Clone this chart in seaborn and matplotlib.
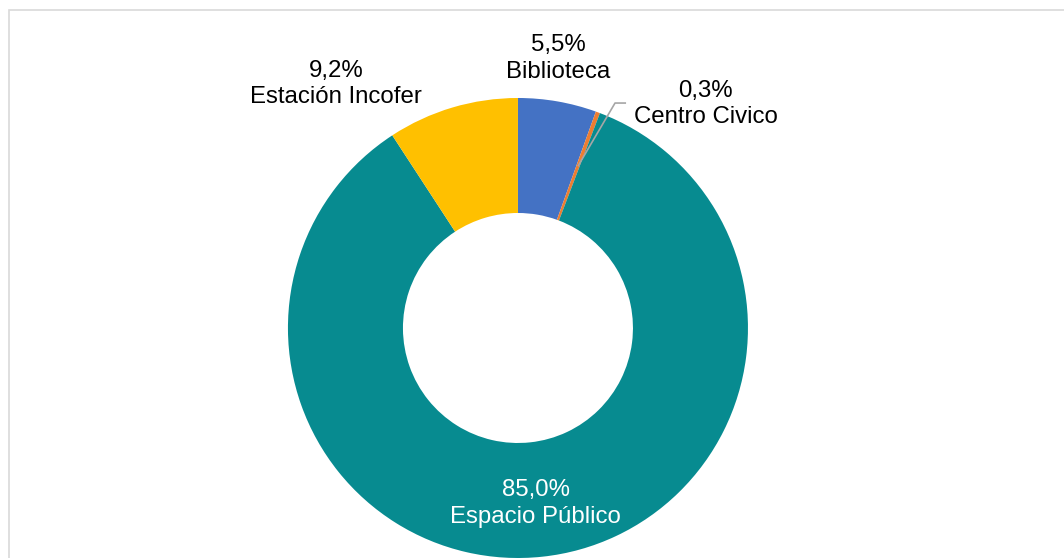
import matplotlib
matplotlib.use("Agg")
import numpy as np
import seaborn as sns
import matplotlib.pyplot as plt
from matplotlib.patches import Rectangle

# datos
categorias = ["Biblioteca", "Centro Civico", "Espacio Público", "Estación Incofer"]
porcentajes = [5.5, 0.3, 85.0, 9.2]
colores = ["#4472C4", "#ED7D31", "#078B90", "#FFC000"]

sns.set_theme(style="white")
plt.rcParams["font.family"] = ["Liberation Sans", "DejaVu Sans"]

fig = plt.figure(figsize=(10.64, 5.58), dpi=100)
ax = fig.add_axes([0.2706, 0.0, 0.4324, 0.8244])

wedges, _ = ax.pie(porcentajes, colors=colores, startangle=90, counterclock=False,
                   radius=1, wedgeprops=dict(width=0.5, linewidth=0))
ax.set_xlim(-1, 1)
ax.set_ylim(-1, 1)
ax.set_aspect("equal")
ax.axis("off")

# posicion de las etiquetas (coordenadas del eje)
pos_etiquetas = {
    "Biblioteca": (0.176, 1.172),
    "Centro Civico": (0.817, 0.974),
    "Espacio Público": (0.078, -0.762),
    "Estación Incofer": (-0.791, 1.061),
}

for cat, val in zip(categorias, porcentajes):
    txt = f"{val:.1f}%".replace(".", ",") + "\n" + cat
    x, y = pos_etiquetas[cat]
    color = "white" if cat == "Espacio Público" else "#000000"
    ax.text(x, y, txt, ha="center", va="center", fontsize=17.3,
            color=color, linespacing=1.28, clip_on=False)

# linea guia para Centro Civico
w = wedges[1]
ang = np.deg2rad((w.theta1 + w.theta2) / 2)
x0, y0 = 0.75 * np.cos(ang), 0.75 * np.sin(ang)
ax.plot([x0, 0.422, 0.470], [y0, 0.978, 0.978], color="#A6A6A6", lw=1.2,
        clip_on=False, solid_capstyle="butt")

# marco del grafico
fig.patches.append(Rectangle((8.5 / 1064, -0.05), 1.1, (558 - 9.5) / 558 + 0.05,
                             transform=fig.transFigure, fill=False,
                             edgecolor="#D9D9D9", lw=1.2))

fig.savefig("out.png", dpi=100)
